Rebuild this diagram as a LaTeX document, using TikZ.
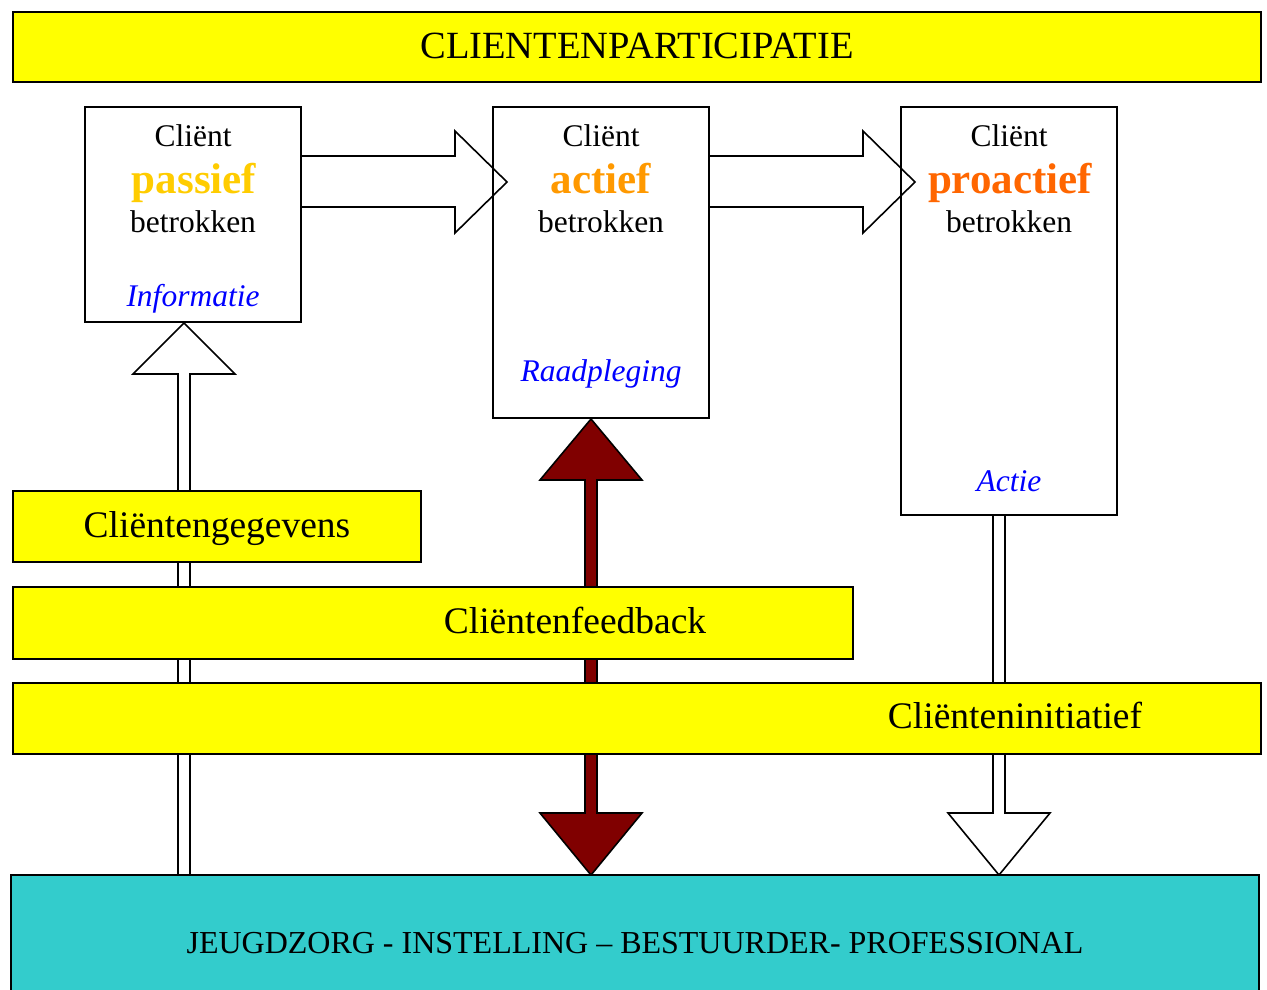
\documentclass[tikz,border=0pt]{standalone}
\usepackage{fontspec}
\setmainfont{Liberation Serif}
\definecolor{ybar}{HTML}{FFFF00}
\definecolor{cyanbox}{HTML}{33CCCC}
\definecolor{darkred}{HTML}{800000}
\definecolor{infoblue}{HTML}{0000FF}
\definecolor{cpas}{HTML}{FFCC00}
\definecolor{cact}{HTML}{FF9900}
\definecolor{cpro}{HTML}{FF6600}
\newcommand{\fs}[1]{\fontsize{#1}{#1}\selectfont}
\tikzset{
  stagebox/.style={draw=black,line width=2pt,minimum width=216pt,inner sep=0pt},
  ybox/.style={draw=black,fill=ybar,line width=2pt,inner sep=0pt},
  blockarrow/.style={draw=black,fill=white,line width=1.6pt,line join=miter},
  redarrow/.style={draw=black,fill=darkred,line width=1.6pt,line join=miter},
  lbl/.style={anchor=base,inner sep=0pt},
  small/.style={lbl,font=\fs{31.5}},
  big/.style={lbl,font=\fs{37.5}},
  kind/.style={lbl,font=\fs{43}\bfseries},
  level/.style={lbl,font=\fs{31.5}\itshape,text=infoblue}
}
\begin{document}
\begin{tikzpicture}[x=1pt,y=-1pt]
\useasboundingbox (0,0) rectangle (1267,989);
% block arrows (behind boxes)
\draw[blockarrow] (178,875) -- (178,374) -- (133,374) -- (184,323) -- (235,374) -- (190,374) -- (190,875) -- cycle;
\draw[redarrow] (585,480) -- (540,480) -- (591,419) -- (642,480) -- (597,480) -- (597,813) -- (642,813) -- (591,875) -- (540,813) -- (585,813) -- cycle;
\draw[blockarrow] (993,515) -- (993,813) -- (948,813) -- (999,875) -- (1050,813) -- (1005,813) -- (1005,515) -- cycle;
\draw[blockarrow] (301,156) -- (455,156) -- (455,131) -- (507,182) -- (455,233) -- (455,207) -- (301,207) -- cycle;
\draw[blockarrow] (709,156) -- (863,156) -- (863,131) -- (915,182) -- (863,233) -- (863,207) -- (709,207) -- cycle;
% title
\node[ybox,minimum width=1248pt,minimum height=70pt] (title) at (637,47) {};
\node[lbl,font=\fs{38.5}] (titletext) at (637,58) {CLIENTENPARTICIPATIE};
% stage boxes
\node[stagebox,minimum height=215pt] (b1) at (193,214.5) {};
\node[stagebox,minimum height=311pt] (b2) at (601,262.5) {};
\node[stagebox,minimum height=408pt] (b3) at (1009,311) {};
\node[small] (c1) at (193,146) {Cliënt};
\node[kind,text=cpas] (k1) at (194,193) {passief};
\node[small] (t1) at (193,232) {betrokken};
\node[level] (l1) at (193,306) {Informatie};
\node[small] (c2) at (601,146) {Cliënt};
\node[kind,text=cact] (k2) at (601,193) {actief};
\node[small] (t2) at (601,232) {betrokken};
\node[level] (l2) at (601,381) {Raadpleging};
\node[small] (c3) at (1009,146) {Cliënt};
\node[kind,text=cpro] (k3) at (1010,193) {proactief};
\node[small] (t3) at (1009,232) {betrokken};
\node[level] (l3) at (1009,491) {Actie};
% yellow bars
\node[ybox,minimum width=408pt,minimum height=71pt] (bar1) at (217,526.5) {};
\node[big] (bar1text) at (217,537) {Cliëntengegevens};
\node[ybox,minimum width=840pt,minimum height=72pt] (bar2) at (433,623) {};
\node[big] (bar2text) at (575,633) {Cliëntenfeedback};
\node[ybox,minimum width=1248pt,minimum height=71pt] (bar3) at (637,718.5) {};
\node[big] (bar3text) at (1015,728) {Cliënteninitiatief};
% bottom box
\node[draw=black,fill=cyanbox,line width=2pt,minimum width=1248pt,minimum height=124pt,inner sep=0pt] (base) at (635,937) {};
\node[lbl,font=\fs{32}] (basetext) at (635,953) {JEUGDZORG - INSTELLING – BESTUURDER- PROFESSIONAL};
\end{tikzpicture}
\end{document}
